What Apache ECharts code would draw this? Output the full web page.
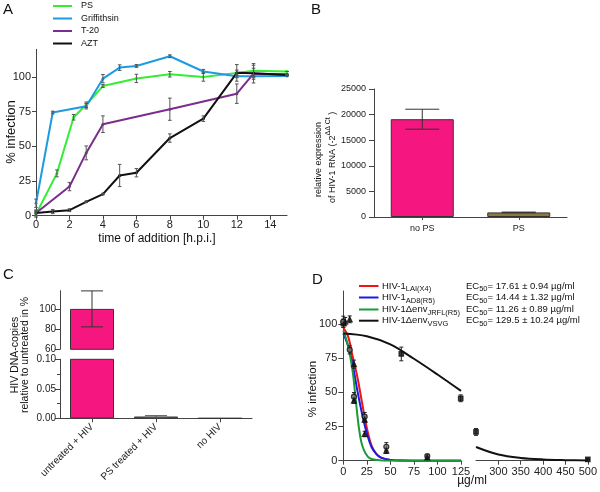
<!DOCTYPE html>
<html>
<head>
<meta charset="utf-8">
<script src="https://cdn.jsdelivr.net/npm/echarts@6/dist/echarts.min.js"></script>
<style>
html,body{margin:0;padding:0;background:#fff;}
#chart{width:600px;height:492px;}
</style>
</head>
<body>
<div id="chart"></div>
<script>
// A: time of addition (h.p.i.) vs % infection
var psPts    = [[0,1],[1.25,30.5],[2.25,71],[3,80],[4,93.5],[6,99],[8,102],[10,100],[12,103],[13,104.5],[15,104]];
var psErr    = [2,2.5,2,2,1,3,2,3,2,4,0];
var griffPts = [[0,9],[1,74.4],[3,79],[4,98.8],[5,106.8],[6,108],[8,115],[10,104],[12,100.5],[13,100.5],[15,100.8]];
var griffErr = [3,1,2,3,2,1,1,1.5,1,1,0];
var t20Pts   = [[0,2],[2,21],[3,45.3],[4,66],[8,76.8],[12,88],[13,102.4],[15,102]];
var t20Err   = [2,3,5,6,8,7,4,0];
var aztPts   = [[0,2],[1,3],[2,4],[3,10],[4,15.6],[5,29],[6,31],[8,56],[10,70],[12,103],[13,102.7],[15,101.5]];
var aztErr   = [2,1.5,1,0.5,0.5,8,3,3,2,6,7,0];

// B: relative expression of HIV-1 RNA
var bCats = ['no PS', 'PS'];
var bVals = [19100, 900];
var bErr  = [1950, 60];

// C: HIV DNA-copies relative to untreated in %
var cCats = ['untreated + HIV', 'PS treated + HIV', 'no HIV'];
var cVals = [100, 0.003, 0];
var cErr  = [17.8, 0.0015, 0];

// D: dose response curves
var laiCurve  = [[0,97],[5,91],[10,76],[15,61],[20,42],[25,24],[30,11],[35,5],[40,2.3],[50,0.6],[60,0.1],[80,0],[125,0]];
var ad8Curve  = [[0,93],[5,84],[10,70],[15,51],[20,34],[25,20],[30,10],[35,5],[40,2.3],[50,0.6],[60,0.1],[80,0],[125,0]];
var jrflCurve = [[0,95],[5,84],[10,65],[13,46],[16,27],[19,14],[22,7.5],[26,3],[30,1.2],[40,0.2],[50,0],[125,0]];
var vsvgCurve = [[0,93],[25,91],[50,85],[75,74.5],[100,63],[125,51],
                 [250,10],[300,4.5],[350,2],[400,0.9],[450,0.4],[500,0.1]];
var squarePts = [[0,100.4],[61.6,78],[124.7,45.6],[250,21],[500,1]];
var squareErr = [3,5,2.5,2.5,0.5];
var circlePts = [[0,101.6],[6.8,81],[11.3,46.8],[22.7,32.2],[45.7,10.2],[89.2,3.4]];
var circleErr = [4,3,3,3,3,1];
var trianPts  = [[2,101.6],[6.8,103.3],[11.3,70.5],[11.3,43.9],[22.7,30],[22.7,19.5],[45.7,7.3],[89.2,2.4]];
var trianErr  = [3,2.5,3,2,2,2,2,1];
var ec50Texts = ['= 17.61 ± 0.94 µg/ml', '= 14.44 ± 1.32 µg/ml', '= 11.26 ± 0.89 µg/ml', '= 129.5 ± 10.24 µg/ml'];

var FONT = 'Liberation Sans, Arial, sans-serif';
var AX = '#444';
var PINK = '#F5177F', OLIVE = '#8B7A3A';

function errData(pts, err) {
	return pts.map(function (p, i) { return [p[0], p[1] - err[i], p[1] + err[i]]; });
}
function errRender(cap, color) {
	return function (params, api) {
		var lo = api.coord([api.value(0), api.value(1)]);
		var hi = api.coord([api.value(0), api.value(2)]);
		var st = { stroke: color, lineWidth: 1 };
		return { type: 'group', children: [
			{ type: 'line', shape: { x1: lo[0], y1: lo[1], x2: hi[0], y2: hi[1] }, style: st },
			{ type: 'line', shape: { x1: lo[0] - cap, y1: lo[1], x2: lo[0] + cap, y2: lo[1] }, style: st },
			{ type: 'line', shape: { x1: hi[0] - cap, y1: hi[1], x2: hi[0] + cap, y2: hi[1] }, style: st }
		]};
	};
}
function leftOf(pts) { return pts.filter(function (p) { return p[0] <= 125; }); }
function rightOf(pts) { return pts.filter(function (p) { return p[0] >= 250; }); }

function axLine(show) { return { show: show, lineStyle: { color: AX, width: 1 } }; }
function axTick(len) { return { show: true, length: len, lineStyle: { color: AX } }; }
function axLabel(size, margin) { return { fontFamily: FONT, fontSize: size, color: '#222', margin: margin }; }
function plain(v) { return String(v); }

var chart = echarts.init(document.getElementById('chart'));

var series = [];
// panel A
var aSets = [
	{ name: 'PS', pts: psPts, err: psErr, color: '#33EE33' },
	{ name: 'Griffithsin', pts: griffPts, err: griffErr, color: '#1E9BE0' },
	{ name: 'T-20', pts: t20Pts, err: t20Err, color: '#7B2D8E' },
	{ name: 'AZT', pts: aztPts, err: aztErr, color: '#111' }
];
aSets.forEach(function (s) {
	series.push({ type: 'custom', xAxisIndex: 0, yAxisIndex: 0, renderItem: errRender(1.8, '#555'), data: errData(s.pts, s.err), z: 3 });
	series.push({ type: 'line', name: s.name, xAxisIndex: 0, yAxisIndex: 0, data: s.pts, symbol: 'circle', symbolSize: 3,
		itemStyle: { color: s.color }, lineStyle: { color: s.color, width: 2 }, z: 2 });
});
// panel B
series.push({ type: 'bar', xAxisIndex: 1, yAxisIndex: 1, barWidth: 63,
	data: bVals.map(function (v, i) { return { value: v, itemStyle: { color: i === 0 ? PINK : OLIVE } }; }),
	itemStyle: { borderColor: '#333', borderWidth: 1 } });
series.push({ type: 'custom', xAxisIndex: 1, yAxisIndex: 1, renderItem: errRender(17, '#333'),
	data: bVals.map(function (v, i) { return [i, v - bErr[i], v + bErr[i]]; }), z: 3 });
// panel C (broken axis)
series.push({ type: 'bar', xAxisIndex: 2, yAxisIndex: 2, barWidth: 44,
	data: cVals.map(function (v, i) { return v >= 60 ? { value: v, itemStyle: { color: i === 0 ? PINK : OLIVE } } : null; }),
	itemStyle: { borderColor: '#333', borderWidth: 1 } });
series.push({ type: 'custom', xAxisIndex: 2, yAxisIndex: 2, renderItem: errRender(11, '#333'),
	data: cVals.map(function (v, i) { return [i, v - cErr[i], v + cErr[i]]; }).filter(function (d) { return d[1] >= 60; }), z: 3 });
series.push({ type: 'bar', xAxisIndex: 3, yAxisIndex: 3, barWidth: 44, clip: true,
	data: cVals.map(function (v, i) { return { value: v, itemStyle: { color: i === 0 ? PINK : OLIVE } }; }),
	itemStyle: { borderColor: '#333', borderWidth: 1 } });
series.push({ type: 'custom', xAxisIndex: 3, yAxisIndex: 3, renderItem: errRender(11, '#555'),
	data: [[1, cVals[1] - cErr[1], cVals[1] + cErr[1]]], z: 3 });
// panel D
var dCurves = [
	{ pts: laiCurve, color: '#F01414' },
	{ pts: ad8Curve, color: '#1A1AE6' },
	{ pts: jrflCurve, color: '#1A9A3A' },
	{ pts: vsvgCurve, color: '#111' }
];
dCurves.forEach(function (c) {
	[[4, leftOf(c.pts)], [5, rightOf(c.pts)]].forEach(function (g) {
		if (!g[1].length) return;
		series.push({ type: 'line', xAxisIndex: g[0], yAxisIndex: g[0], data: g[1], showSymbol: false,
			smooth: 0.35, lineStyle: { color: c.color, width: 2 }, z: 2 });
	});
});
[[squarePts, squareErr, 'rect', 4.5], [circlePts, circleErr, 'circle', 5], [trianPts, trianErr, 'triangle', 5]].forEach(function (m) {
	var ed = errData(m[0], m[1]);
	[[4, leftOf], [5, rightOf]].forEach(function (g) {
		var pts = g[1](m[0]);
		if (!pts.length) return;
		series.push({ type: 'custom', xAxisIndex: g[0], yAxisIndex: g[0], renderItem: errRender(2, '#222'), data: g[1](ed), z: 4 });
		series.push({ type: 'scatter', xAxisIndex: g[0], yAxisIndex: g[0], data: pts, symbol: m[2], symbolSize: m[3],
			itemStyle: { color: m[2] === 'circle' ? '#777' : '#111', borderColor: '#111', borderWidth: 1.2 }, z: 5 });
	});
});

// text elements: panel letters, axis names, legends
var gfx = [];
function txt(x, y, text, size, opts) {
	opts = opts || {};
	gfx.push({ type: 'text', x: x, y: y, rotation: opts.rot || 0,
		style: { text: text, font: size + 'px ' + FONT, fill: '#111', textAlign: opts.align || 'left',
			textVerticalAlign: opts.valign || 'middle', rich: opts.rich } });
}
txt(3, 10, 'A', 15); txt(311, 10, 'B', 15); txt(3, 275, 'C', 15); txt(312, 280, 'D', 15);
txt(11, 132, '% infection', 13, { rot: Math.PI / 2, align: 'center' });
txt(157, 239, 'time of addition [h.p.i.]', 12, { align: 'center' });
var aLegY = [6, 18.5, 31, 43.5];
aSets.forEach(function (s, i) {
	gfx.push({ type: 'line', shape: { x1: 53, y1: aLegY[i], x2: 72, y2: aLegY[i] }, style: { stroke: s.color, lineWidth: 2 } });
	txt(81, aLegY[i], s.name, 9);
});
var richB = { n: { fontFamily: FONT, fontSize: 9, lineHeight: 13, verticalAlign: 'bottom' },
	s: { fontFamily: FONT, fontSize: 7, lineHeight: 7, verticalAlign: 'top' } };
txt(319, 197, 'relative expression', 9, { rot: Math.PI / 2 });
txt(331, 203, '{n|of HIV-1 RNA (-2}{s|ΔΔ Ct}{n| )}', 9, { rot: Math.PI / 2, rich: richB });
txt(15, 355, 'HIV DNA-copies', 10.5, { rot: Math.PI / 2, align: 'center' });
txt(25, 355, 'relative to untreated in %', 10.5, { rot: Math.PI / 2, align: 'center' });
txt(313, 389, '% infection', 11.5, { rot: Math.PI / 2, align: 'center' });
txt(472, 481, 'µg/ml', 12, { align: 'center' });
var richD = { n: { fontFamily: FONT, fontSize: 9.5, lineHeight: 12, verticalAlign: 'top' },
	s: { fontFamily: FONT, fontSize: 7.5, lineHeight: 7, verticalAlign: 'bottom' } };
var dLegY = [286, 297.5, 309.5, 320.7];
var dNames = ['{n|HIV-1}{s|LAI(X4)}', '{n|HIV-1}{s|AD8(R5)}', '{n|HIV-1Δenv}{s|JRFL(R5)}', '{n|HIV-1Δenv}{s|VSVG}'];
dCurves.forEach(function (c, i) {
	gfx.push({ type: 'line', shape: { x1: 359, y1: dLegY[i], x2: 378.5, y2: dLegY[i] }, style: { stroke: c.color, lineWidth: 2 } });
	txt(382, dLegY[i] + 1, dNames[i], 9.5, { rich: richD });
	txt(466, dLegY[i] + 1, '{n|EC}{s|50}{n|' + ec50Texts[i] + '}', 9.5, { rich: richD });
});

var option = {
	animation: false,
	backgroundColor: '#fff',
	textStyle: { fontFamily: FONT },
	grid: [
		{ left: 36, top: 49.3, width: 251, height: 166.4, containLabel: false },
		{ left: 374, top: 89, width: 193, height: 128, containLabel: false },
		{ left: 60, top: 290.7, width: 192, height: 58.6, containLabel: false },
		{ left: 60, top: 359.3, width: 192, height: 59, containLabel: false },
		{ left: 343.3, top: 291, width: 117.7, height: 169.7, containLabel: false },
		{ left: 476, top: 291, width: 114.7, height: 169.7, containLabel: false }
	],
	xAxis: [
		{ gridIndex: 0, type: 'value', min: 0, max: 15, interval: 2, splitLine: { show: false },
			axisLine: axLine(true), axisTick: axTick(4), axisLabel: Object.assign(axLabel(11, 4), { showMaxLabel: false }) },
		{ gridIndex: 1, type: 'category', data: bCats, splitLine: { show: false },
			axisLine: axLine(true), axisTick: { show: true, alignWithLabel: true, length: 3, lineStyle: { color: AX } }, axisLabel: axLabel(9, 7) },
		{ gridIndex: 2, type: 'category', data: cCats, axisLine: axLine(false), axisTick: { show: false }, axisLabel: { show: false } },
		{ gridIndex: 3, type: 'category', data: cCats, splitLine: { show: false },
			axisLine: axLine(true), axisTick: { show: true, alignWithLabel: true, length: 4, lineStyle: { color: AX } },
			axisLabel: Object.assign(axLabel(10, 7), { rotate: 45, interval: 0 }) },
		{ gridIndex: 4, type: 'value', min: 0, max: 125, interval: 25, splitLine: { show: false },
			axisLine: axLine(true), axisTick: axTick(4), axisLabel: axLabel(11, 6) },
		{ gridIndex: 5, type: 'value', min: 250, max: 500, interval: 50, splitLine: { show: false },
			axisLine: axLine(true), axisTick: axTick(4), axisLabel: Object.assign(axLabel(11, 6), { showMinLabel: false }) }
	],
	yAxis: [
		{ gridIndex: 0, type: 'value', min: 0, max: 120, interval: 25, splitLine: { show: false },
			axisLine: axLine(true), axisTick: axTick(4), axisLabel: Object.assign(axLabel(11, 5), { showMaxLabel: false }) },
		{ gridIndex: 1, type: 'value', min: 0, max: 25000, interval: 5000, splitLine: { show: false },
			axisLine: axLine(true), axisTick: axTick(5), axisLabel: Object.assign(axLabel(9, 8), { formatter: plain }) },
		{ gridIndex: 2, type: 'value', min: 60, max: 118, interval: 20, splitLine: { show: false },
			axisLine: axLine(true), axisTick: axTick(5), axisLabel: Object.assign(axLabel(10, 4), { showMaxLabel: false }) },
		{ gridIndex: 3, type: 'value', min: 0, max: 0.1, interval: 0.05, splitLine: { show: false },
			axisLine: axLine(true), axisTick: axTick(5), minorTick: { show: true, splitNumber: 2, length: 3, lineStyle: { color: AX } },
			axisLabel: Object.assign(axLabel(10, 4), { formatter: function (v) { return v.toFixed(2); } }) },
		{ gridIndex: 4, type: 'value', min: 0, max: 124, interval: 25, splitLine: { show: false },
			axisLine: axLine(true), axisTick: axTick(5), axisLabel: Object.assign(axLabel(11, 6), { showMaxLabel: false }) },
		{ gridIndex: 5, type: 'value', min: 0, max: 124, show: false }
	],
	series: series,
	graphic: gfx
};
chart.setOption(option);
</script>
</body>
</html>
